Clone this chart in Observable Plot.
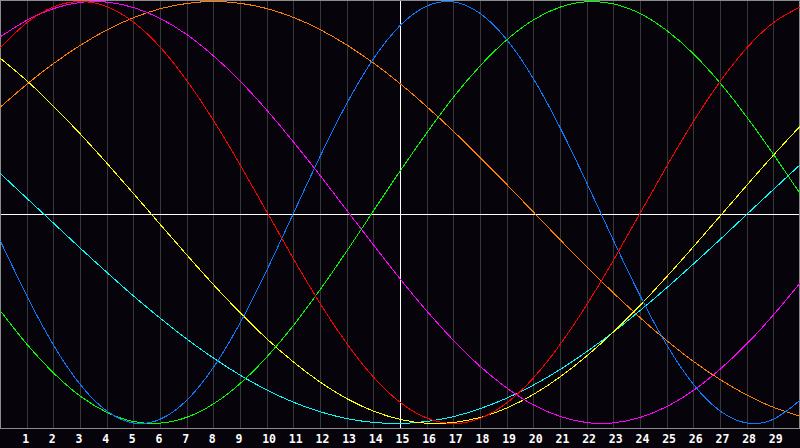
<!DOCTYPE html>
<html>
<head>
<meta charset="utf-8">
<script src="https://cdn.jsdelivr.net/npm/d3@7"></script>
<script src="https://cdn.jsdelivr.net/npm/@observablehq/plot@0.6"></script>
<style>
  html, body { margin: 0; padding: 0; background: #06040a; }
  #chart svg { display: block; }
</style>
</head>
<body>
<div id="chart"></div>
<script>
const days = [0,1,2,3,4,5,6,7,8,9,10,11,12,13,14,15,16,17,18,19,20,21,22,23,24,25,26,27,28,29,30];
const tickLabels = [1,2,3,4,5,6,7,8,9,10,11,12,13,14,15,16,17,18,19,20,21,22,23,24,25,26,27,28,29];
const gridDays = tickLabels;
const centerDay = [15];

// Cycle values (-1 .. 1)
const physical = [-0.136,-0.398,-0.631,-0.817,-0.942,-0.998,-0.979,-0.888,-0.731,-0.520,-0.270,0.000,0.270,0.520,0.731,0.888,0.979,0.998,0.942,0.817,0.631,0.398,0.136,-0.136,-0.398,-0.631,-0.817,-0.942,-0.998,-0.979,-0.888];
const emotional = [0.782,0.901,0.975,1.000,0.975,0.901,0.782,0.623,0.434,0.223,0.000,-0.223,-0.434,-0.623,-0.782,-0.901,-0.975,-1.000,-0.975,-0.901,-0.782,-0.623,-0.434,-0.223,0.000,0.223,0.434,0.623,0.782,0.901,0.975];
const intellectual = [-0.467,-0.626,-0.762,-0.871,-0.948,-0.991,-0.998,-0.970,-0.906,-0.809,-0.683,-0.533,-0.363,-0.180,0.010,0.199,0.380,0.549,0.697,0.820,0.914,0.974,0.999,0.988,0.942,0.861,0.750,0.611,0.450,0.273,0.086];
const intuitive = [0.833,0.912,0.967,0.996,0.997,0.971,0.919,0.842,0.741,0.621,0.483,0.332,0.173,0.008,-0.156,-0.317,-0.469,-0.608,-0.731,-0.833,-0.913,-0.967,-0.996,-0.997,-0.971,-0.919,-0.842,-0.741,-0.621,-0.483,-0.332];
const aesthetic = [0.730,0.623,0.502,0.371,0.232,0.088,-0.058,-0.203,-0.344,-0.477,-0.600,-0.710,-0.805,-0.883,-0.942,-0.981,-0.999,-0.995,-0.971,-0.926,-0.861,-0.778,-0.678,-0.564,-0.438,-0.302,-0.160,-0.015,0.131,0.274,0.411];
const awareness = [0.500,0.609,0.707,0.793,0.866,0.924,0.966,0.991,1.000,0.991,0.966,0.924,0.866,0.793,0.707,0.609,0.500,0.383,0.259,0.131,0.000,-0.131,-0.259,-0.383,-0.500,-0.609,-0.707,-0.793,-0.866,-0.924,-0.966];
const spiritual = [0.184,0.066,-0.052,-0.170,-0.285,-0.397,-0.502,-0.601,-0.691,-0.772,-0.842,-0.900,-0.945,-0.977,-0.995,-1.000,-0.990,-0.967,-0.929,-0.879,-0.817,-0.743,-0.658,-0.565,-0.463,-0.355,-0.242,-0.126,-0.007,0.111,0.228];

const seriesNames = ["Spiritual","Awareness","Aesthetic","Intuitive","Intellectual","Physical","Emotional"];
const seriesValues = [spiritual, awareness, aesthetic, intuitive, intellectual, physical, emotional];
const seriesColors = ["#00ffff","#ff8000","#ffff00","#ff00ff","#00ff00","#0a7aff","#ff0000"];

const lineMarks = seriesNames.map((name, i) => {
  const rows = days.map((d, j) => ({day: d, v: seriesValues[i][j], name}));
  return Plot.line(rows, {x: "day", y: "v", stroke: seriesColors[i], strokeWidth: 1, curve: "natural", shapeRendering: "crispEdges"});
});

const chart = Plot.plot({
  width: 800,
  height: 448,
  marginTop: 0,
  marginLeft: 0,
  marginRight: 0,
  marginBottom: 20,
  style: {background: "#06040a", color: "white"},
  x: {domain: [0, 30]},
  y: {domain: [-1, 1], range: [423, 1], axis: null},
  marks: [
    Plot.ruleX(gridDays, {stroke: "#383838", strokeWidth: 1, shapeRendering: "crispEdges"}),
    Plot.ruleX(centerDay, {stroke: "white", strokeWidth: 1, shapeRendering: "crispEdges"}),
    Plot.ruleY([0], {stroke: "white", strokeWidth: 1, dy: 2, shapeRendering: "crispEdges"}),
    Plot.frame({stroke: "#8c8c8c", insetRight: 1, shapeRendering: "crispEdges"}),
    ...lineMarks,
    Plot.axisX(tickLabels, {
      tickSize: 0,
      tickPadding: 6,
      textAnchor: "start",
      dx: -5,
      fill: "white",
      fontWeight: 800,
      fontSize: 11.5,
      fontFamily: "DejaVu Sans Mono",
      stroke: "white",
      strokeWidth: 0.3,
      tickFormat: d => String(d),
      label: null
    })
  ]
});
document.getElementById("chart").appendChild(chart);
</script>
</body>
</html>
